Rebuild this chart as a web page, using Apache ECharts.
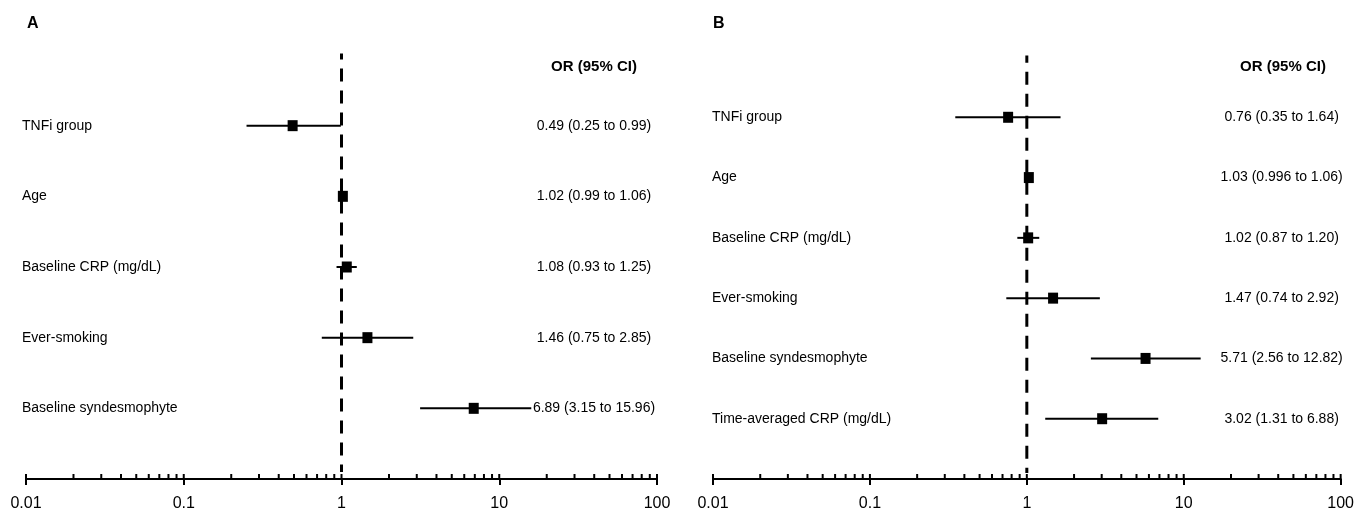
<!DOCTYPE html>
<html>
<head>
<meta charset="utf-8">
<script src="https://cdn.jsdelivr.net/npm/echarts@6/dist/echarts.min.js"></script>
<style>html,body{margin:0;padding:0;background:#fff}#c{width:1357px;height:514px}</style>
</head>
<body>
<div id="c"></div>
<script>
// ---- data ----
const labelsA = ['TNFi group', 'Age', 'Baseline CRP (mg/dL)', 'Ever-smoking', 'Baseline syndesmophyte'];
const orA = [0.49, 1.02, 1.08, 1.46, 6.89];
const loA = [0.25, 0.99, 0.93, 0.75, 3.15];
const hiA = [0.99, 1.06, 1.25, 2.85, 15.96];
const textA = ['0.49 (0.25 to 0.99)', '1.02 (0.99 to 1.06)', '1.08 (0.93 to 1.25)', '1.46 (0.75 to 2.85)', '6.89 (3.15 to 15.96)'];

const labelsB = ['TNFi group', 'Age', 'Baseline CRP (mg/dL)', 'Ever-smoking', 'Baseline syndesmophyte', 'Time-averaged CRP (mg/dL)'];
const orB = [0.76, 1.03, 1.02, 1.47, 5.71, 3.02];
const loB = [0.35, 0.996, 0.87, 0.74, 2.56, 1.31];
const hiB = [1.64, 1.06, 1.20, 2.92, 12.82, 6.88];
const textB = ['0.76 (0.35 to 1.64)', '1.03 (0.996 to 1.06)', '1.02 (0.87 to 1.20)', '1.47 (0.74 to 2.92)', '5.71 (2.56 to 12.82)', '3.02 (1.31 to 6.88)'];

const majorTicks = [0.01, 0.1, 1, 10, 100];
const minorTicks = [0.02, 0.03, 0.04, 0.05, 0.06, 0.07, 0.08, 0.09,
                    0.2, 0.3, 0.4, 0.5, 0.6, 0.7, 0.8, 0.9,
                    2, 3, 4, 5, 6, 7, 8, 9,
                    20, 30, 40, 50, 60, 70, 80, 90];
const headerText = 'OR (95% CI)';
const panelNames = ['A', 'B'];
const nullLine = 1;

// ---- chart ----
const FONT = '"Liberation Sans", Arial, sans-serif';
const chart = echarts.init(document.getElementById('c'), null, {renderer: 'canvas'});

function xAxisDef(gi) {
  return {
    type: 'log', logBase: 10, min: 0.01, max: 100, gridIndex: gi, position: 'bottom',
    axisLine: {show: true, onZero: false, lineStyle: {color: '#000', width: 2}},
    axisTick: {show: true, length: 6, lineStyle: {color: '#000', width: 2}},
    splitLine: {show: false}, minorTick: {show: false},
    axisLabel: {color: '#000', fontSize: 16, fontFamily: FONT, margin: 17,
      formatter: v => String(majorTicks.find(t => Math.abs(t - v) / t < 1e-6) ?? v)}
  };
}
function yAxisLeft(gi, labels, margin) {
  return {
    type: 'value', gridIndex: gi, inverse: true, min: 0, max: labels.length + 1, interval: 1,
    axisLine: {show: false}, axisTick: {show: false}, splitLine: {show: false},
    axisLabel: {color: '#000', fontSize: 14, fontFamily: FONT, align: 'left', margin: margin,
      showMinLabel: false, showMaxLabel: false,
      formatter: v => labels[v - 1] || ''}
  };
}
function yAxisRight(gi, texts, margin) {
  return {
    type: 'value', gridIndex: gi, position: 'right', inverse: true, min: 0, max: texts.length + 1, interval: 1,
    axisLine: {show: false}, axisTick: {show: false}, splitLine: {show: false},
    axisLabel: {color: '#000', fontSize: 14, fontFamily: FONT, align: 'center', margin: margin,
      showMinLabel: false, showMaxLabel: false,
      formatter: v => texts[v - 1] || ''}
  };
}
function forestSeries(gi, lo, hi, or) {
  return {
    type: 'custom', xAxisIndex: gi, yAxisIndex: gi * 2, silent: true, clip: false,
    encode: {x: [0, 1, 2], y: 3},
    data: or.map((v, i) => [lo[i], hi[i], v, i + 1]),
    renderItem: (params, api) => {
      const y = api.value(3);
      const p1 = api.coord([api.value(0), y]);
      const p2 = api.coord([api.value(1), y]);
      const pc = api.coord([api.value(2), y]);
      return {type: 'group', children: [
        {type: 'line', shape: {x1: p1[0], y1: p1[1], x2: p2[0], y2: p2[1]}, style: {stroke: '#000', lineWidth: 2}},
        {type: 'rect', shape: {x: pc[0] - 5, y: pc[1] - 5.5, width: 10, height: 11}, style: {fill: '#000'}}
      ]};
    }
  };
}
function tickSeries(gi, ymax) {
  return {
    type: 'custom', xAxisIndex: gi, yAxisIndex: gi * 2, silent: true, clip: false,
    encode: {x: 0},
    data: majorTicks.concat(minorTicks).map(v => [v]),
    renderItem: (params, api) => {
      const p = api.coord([api.value(0), ymax]);
      return {type: 'line', shape: {x1: p[0], y1: p[1], x2: p[0], y2: p[1] - 5}, style: {stroke: '#000', lineWidth: 2}};
    }
  };
}
function nullSeries(gi, n) {
  return {
    type: 'line', xAxisIndex: gi, yAxisIndex: gi * 2, silent: true, symbol: 'none',
    data: [[nullLine, -0.12], [nullLine, n + 0.9]],
    lineStyle: {color: '#000', width: 3, type: [13, 9]}
  };
}

const option = {
  backgroundColor: '#fff',
  animation: false,
  grid: [
    {left: 26, right: 700, top: 55, bottom: 35},
    {left: 713, right: 15, top: 57, bottom: 35}
  ],
  xAxis: [xAxisDef(0), xAxisDef(1)],
  yAxis: [
    yAxisLeft(0, labelsA, 4), yAxisRight(0, textA, -63),
    yAxisLeft(1, labelsB, 1), yAxisRight(1, textB, -59)
  ],
  series: [
    nullSeries(0, labelsA.length), forestSeries(0, loA, hiA, orA), tickSeries(0, labelsA.length + 1),
    nullSeries(1, labelsB.length), forestSeries(1, loB, hiB, orB), tickSeries(1, labelsB.length + 1)
  ],
  graphic: [
    {type: 'text', left: 27, top: 16, style: {text: panelNames[0], fontSize: 16, fontWeight: 'bold', fontFamily: FONT, fill: '#000'}},
    {type: 'text', left: 713, top: 16, style: {text: panelNames[1], fontSize: 16, fontWeight: 'bold', fontFamily: FONT, fill: '#000'}},
    {type: 'text', x: 594, y: 67, style: {text: headerText, fontSize: 15, fontWeight: 'bold', fontFamily: FONT, fill: '#000', align: 'center', verticalAlign: 'middle'}},
    {type: 'text', x: 1283, y: 67, style: {text: headerText, fontSize: 15, fontWeight: 'bold', fontFamily: FONT, fill: '#000', align: 'center', verticalAlign: 'middle'}}
  ]
};
chart.setOption(option);
</script>
</body>
</html>
